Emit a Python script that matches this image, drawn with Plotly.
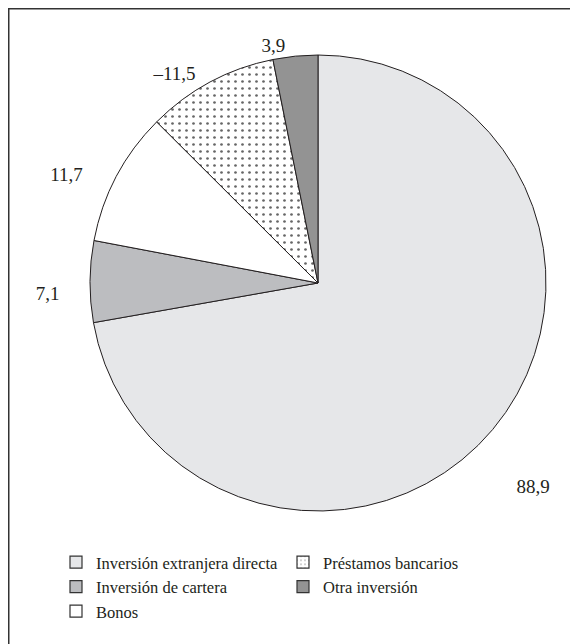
import plotly.graph_objects as go

categories = ["Inversión extranjera directa", "Inversión de cartera", "Bonos",
              "Préstamos bancarios", "Otra inversión"]
values = [88.9, 7.1, 11.7, -11.5, 3.9]
value_labels = ["88,9", "7,1", "11,7", "–11,5", "3,9"]
colors = ["#e6e7e9", "#bcbdc0", "#ffffff", "#ffffff", "#939393"]
patterns = ["", "", "", ".", ""]

NB = "\u00a0"
# padding so the outside labels sit a bit further from the rim, as in the reference
label_text = [
    (NB + "<br>") * 3 + value_labels[0],
    NB + "<br>" + value_labels[1] + NB * 4,
    value_labels[2] + NB * 6,
    value_labels[3] + NB * 2,
    value_labels[4] + NB,
]

W, H = 570, 636
cx, cy, r = 310, 275, 228
FONT = "Liberation Serif, Times New Roman, serif"

fig = go.Figure()
fig.add_trace(go.Pie(
    labels=categories,
    values=[abs(v) for v in values],
    text=label_text,
    textinfo="text",
    textposition="outside",
    textfont=dict(family=FONT, size=19, color="#231f20"),
    sort=False,
    direction="clockwise",
    rotation=0,
    marker=dict(colors=colors, line=dict(color="#231f20", width=1),
                pattern=dict(shape=patterns, fgcolor="#666666", bgcolor="#ffffff",
                             size=7, solidity=0.12)),
    domain=dict(x=[(cx - r) / W, (cx + r) / W], y=[1 - (cy + r) / H, 1 - (cy - r) / H]),
    showlegend=False,
    hoverinfo="label",
))

legend_map = ["legend", "legend", "legend", "legend2", "legend2"]
for name, col, pat, lg in zip(categories, colors, patterns, legend_map):
    fig.add_trace(go.Bar(
        x=[None], y=[None], name=name, legend=lg,
        marker=dict(color=col, line=dict(color="#333333", width=1.2),
                    pattern=dict(shape=pat, fgcolor="#555555", bgcolor="#ffffff",
                                 size=5, solidity=0.15)),
    ))

legend_font = dict(family=FONT, size=16.5, color="#231f20")
fig.update_layout(
    width=W, height=H,
    margin=dict(l=0, r=0, t=0, b=0),
    paper_bgcolor="white", plot_bgcolor="white",
    xaxis=dict(visible=False), yaxis=dict(visible=False),
    legend=dict(x=48 / W, y=1 - 537 / H, xanchor="left", yanchor="top",
                font=legend_font, bgcolor="rgba(0,0,0,0)", tracegroupgap=0,
                itemwidth=30),
    legend2=dict(x=275 / W, y=1 - 537 / H, xanchor="left", yanchor="top",
                 font=legend_font, bgcolor="rgba(0,0,0,0)", tracegroupgap=0,
                 itemwidth=30),
    shapes=[
        dict(type="line", xref="paper", yref="paper", x0=0, x1=1, y0=1 - 0.5 / H, y1=1 - 0.5 / H,
             line=dict(color="#333333", width=2)),
        dict(type="line", xref="paper", yref="paper", x0=0.5 / W, x1=0.5 / W, y0=0, y1=1,
             line=dict(color="#333333", width=2)),
    ],
)

fig.write_html("out.html")
